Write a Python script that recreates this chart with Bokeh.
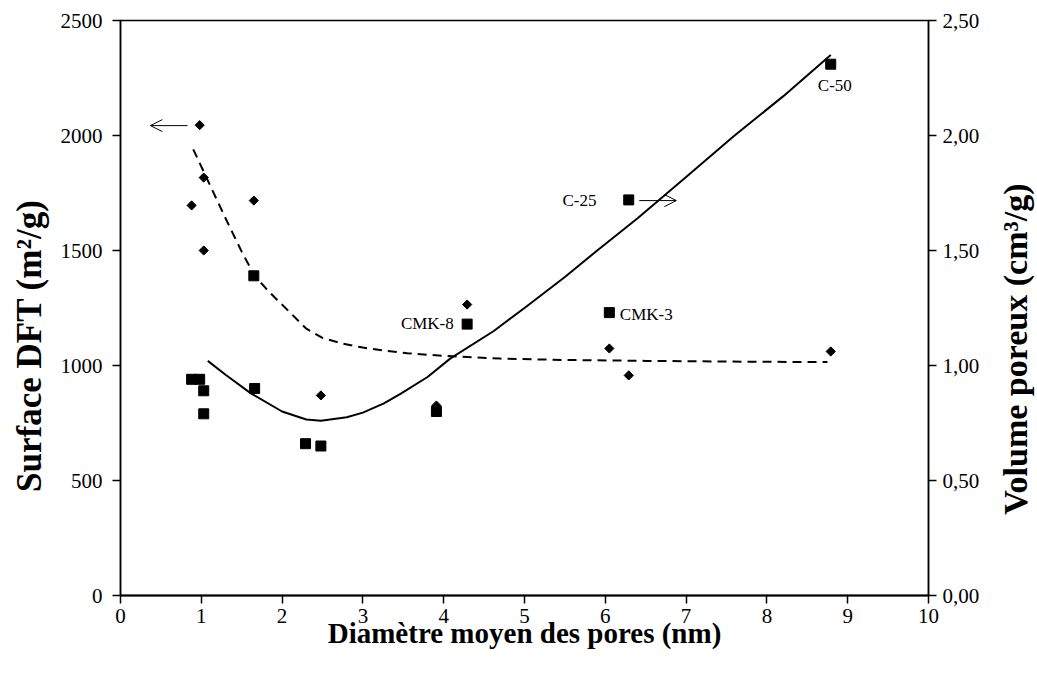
import math
from bokeh.plotting import figure
from bokeh.layouts import row
from bokeh.models import Range1d, LinearAxis, FixedTicker, Arrow, OpenHead, Label
from bokeh.core.properties import value
from bokeh.embed import file_html
from bokeh.resources import INLINE

# ---- data ----
surf_x = [0.98, 1.03, 0.88, 1.65, 1.03, 2.48, 3.91, 4.29, 6.05, 6.29, 8.79]
surf_y = [2045, 1817, 1696, 1717, 1500, 870, 826, 1265, 1074, 957, 1061]

vol_x = [0.88, 0.98, 1.03, 1.03, 1.66, 1.65, 2.29, 2.48, 3.91, 4.29, 6.05, 6.29, 8.79]
vol_y = [0.94, 0.94, 0.89, 0.79, 0.90, 1.39, 0.66, 0.65, 0.80, 1.18, 1.23, 1.72, 2.31]

surf_fit_x = [0.90, 1.10, 1.30, 1.50, 1.66, 1.80, 1.94, 2.10, 2.30, 2.50, 2.75, 3.00,
              3.26, 3.55, 4.00, 4.70, 5.50, 6.50, 7.20, 8.00, 8.75]
surf_fit_y = [1940, 1790, 1640, 1495, 1390, 1335, 1285, 1230, 1160, 1120, 1095, 1078,
              1065, 1053, 1042, 1030, 1024, 1020, 1018, 1016, 1015]

vol_fit_x = [1.08, 1.30, 1.61, 2.00, 2.30, 2.48, 2.80, 3.00, 3.26, 3.47, 3.80, 4.08,
             4.62, 5.00, 5.50, 5.90, 6.40, 7.00, 7.60, 8.20, 8.79]
vol_fit_y = [1.02, 0.96, 0.88, 0.80, 0.765, 0.76, 0.775, 0.795, 0.835, 0.878, 0.95, 1.03,
             1.15, 1.25, 1.385, 1.50, 1.64, 1.82, 2.00, 2.17, 2.35]

x_ticks = [0, 1, 2, 3, 4, 5, 6, 7, 8, 9, 10]
left_ticks = [0, 500, 1000, 1500, 2000, 2500]
right_ticks = [0.0, 0.5, 1.0, 1.5, 2.0, 2.5]
right_labels = ["0,00", "0,50", "1,00", "1,50", "2,00", "2,50"]

x_title = "Diamètre moyen des pores (nm)"
left_title = "Surface DFT (m²/g)"
right_title = "Volume poreux (cm³/g)"

FONT = "Liberation Serif"
H = 670
LW = 55    # left title strip width
RW = 51    # right title strip width

p = figure(width=1037 - LW - RW, height=H, output_backend="svg", toolbar_location=None,
           x_range=Range1d(0, 10), y_range=Range1d(0, 2500),
           min_border_left=120 - LW, min_border_right=(1037 - RW) - 928,
           min_border_top=20, min_border_bottom=75)
p.extra_y_ranges = {"vol": Range1d(0, 2.5)}
p.grid.visible = False
p.outline_line_color = "black"
p.outline_line_width = 1.5
p.background_fill_color = "white"
p.border_fill_color = "white"

raxis = LinearAxis(y_range_name="vol")
p.add_layout(raxis, "right")

for ax in [p.xaxis[0], p.yaxis[0], raxis]:
    ax.major_tick_in = 0
    ax.major_tick_out = 8
    ax.minor_tick_line_color = None
    ax.axis_line_color = "black"
    ax.major_tick_line_color = "black"
    ax.axis_line_width = 1.5
    ax.major_tick_line_width = 1.5
    ax.major_label_text_font = FONT
    ax.major_label_text_font_size = "21px"
    ax.major_label_text_color = "black"

p.xaxis[0].axis_line_width = 2
p.xaxis[0].ticker = FixedTicker(ticks=x_ticks)
p.yaxis[0].ticker = FixedTicker(ticks=left_ticks)
raxis.ticker = FixedTicker(ticks=right_ticks)
raxis.major_label_overrides = {t: l for t, l in zip(right_ticks, right_labels)}
p.xaxis[0].major_label_standoff = 5
p.yaxis[0].major_label_standoff = 10
raxis.major_label_standoff = 6

p.xaxis[0].axis_label = x_title
p.xaxis[0].axis_label_text_font = FONT
p.xaxis[0].axis_label_text_font_size = "29px"
p.xaxis[0].axis_label_text_font_style = "bold"
p.xaxis[0].axis_label_text_color = "black"
p.xaxis[0].axis_label_standoff = -9

# fitted curves
p.line(surf_fit_x, surf_fit_y, line_color="black", line_width=2, line_dash="9 6")
p.line(vol_fit_x, vol_fit_y, y_range_name="vol", line_color="black", line_width=2)

# points
p.scatter(surf_x, surf_y, marker="square", angle=math.pi / 4, size=6.5, color="black")
p.scatter(vol_x, vol_y, y_range_name="vol", marker="square", size=10, color="black")

# arrows
p.add_layout(Arrow(end=OpenHead(size=12, line_width=1, line_color="black"),
                   x_start=0.83, y_start=2043, x_end=0.37, y_end=2043,
                   line_width=1, line_color="black"))
p.add_layout(Arrow(end=OpenHead(size=12, line_width=1, line_color="black"),
                   x_start=6.42, y_start=1717, x_end=6.88, y_end=1717,
                   line_width=1, line_color="black"))

# point labels
for txt, lx, ly in [("C-50", 8.63, 2217), ("C-25", 5.47, 1717),
                    ("CMK-8", 3.47, 1183), ("CMK-3", 6.18, 1222)]:
    p.add_layout(Label(x=lx, y=ly, text=txt, text_font=FONT, text_font_size="17px",
                       text_baseline="middle", text_align="left", text_color="black"))


def title_fig(text, w, cx, cy, size):
    f = figure(width=w, height=H, output_backend="svg", toolbar_location=None,
               x_range=Range1d(0, w), y_range=Range1d(0, H),
               min_border=0, min_border_left=0, min_border_right=0,
               min_border_top=0, min_border_bottom=0)
    f.axis.visible = False
    f.grid.visible = False
    f.outline_line_color = None
    f.background_fill_color = "white"
    f.border_fill_color = "white"
    f.text(x=[cx], y=[H - cy], text=[text], angle=math.pi / 2,
           text_align="center", text_baseline="middle",
           text_font=value(FONT), text_font_size=size, text_font_style="bold",
           text_color="black")
    return f


left_fig = title_fig(left_title, LW, 29, 379, "35px")
right_fig = title_fig(right_title, RW, 1015 - (1037 - RW), 383, "34px")

layout = row(left_fig, p, right_fig, spacing=0)

open("out.html", "w").write(file_html(layout, INLINE))
